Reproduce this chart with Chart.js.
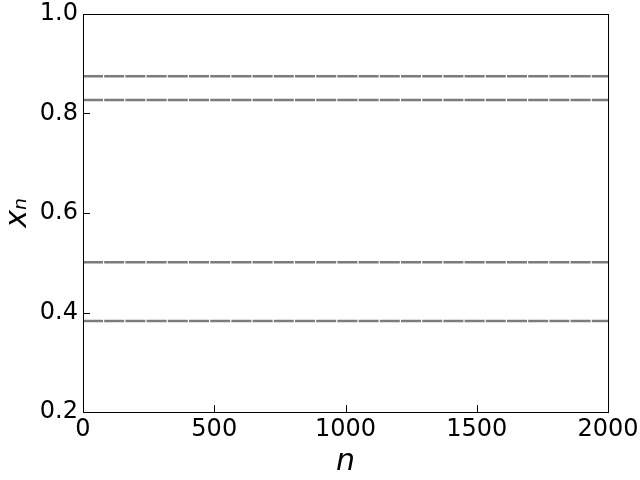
<!DOCTYPE html>
<html>
<head>
<meta charset="utf-8">
<script src="https://cdn.jsdelivr.net/npm/chart.js@4"></script>
<style>
  html, body { margin: 0; padding: 0; background: #fff; }
  #wrap { width: 640px; height: 480px; }
</style>
</head>
<body>
<div id="wrap"><canvas id="orbitChart" width="640" height="480"></canvas></div>
<script>
// period-4 orbit values
const orbitValues = [0.3828, 0.5009, 0.8269, 0.8750];
const nRange = [0, 2000];
const xTicks = [0, 500, 1000, 1500, 2000];
const yTicks = [0.2, 0.4, 0.6, 0.8, 1.0];

const datasets = orbitValues.map(v => ({
    data: nRange.map(n => ({ x: n, y: v })),
    borderColor: '#7b7b7b',
    borderWidth: 2.5,
    borderDash: [20, 1.2],
    pointRadius: 0,
    fill: false
}));

// matplotlib-style frame with inward ticks
const framePlugin = {
    id: 'frame',
    afterDraw(chart) {
        const ctx = chart.ctx;
        const a = chart.chartArea;
        const xs = chart.scales.x, ys = chart.scales.y;
        ctx.save();
        ctx.strokeStyle = '#000';
        ctx.lineWidth = 1;
        ctx.strokeRect(Math.round(a.left) + 0.5, Math.round(a.top) + 0.5,
            Math.round(a.right - a.left), Math.round(a.bottom - a.top));
        ctx.beginPath();
        xTicks.forEach(t => {
            const px = Math.round(xs.getPixelForValue(t)) + 0.5;
            ctx.moveTo(px, a.bottom);
            ctx.lineTo(px, a.bottom - 7);
        });
        yTicks.forEach(t => {
            const py = Math.round(ys.getPixelForValue(t)) + 0.5;
            ctx.moveTo(a.left, py);
            ctx.lineTo(a.left + 7, py);
        });
        ctx.stroke();
        ctx.restore();
    }
};

new Chart(document.getElementById('orbitChart').getContext('2d'), {
    type: 'line',
    data: { datasets: datasets },
    plugins: [framePlugin],
    options: {
        responsive: false,
        animation: false,
        layout: { padding: { top: 14, right: 32, left: 0, bottom: 0 } },
        plugins: { legend: { display: false }, tooltip: { enabled: false } },
        scales: {
            x: {
                type: 'linear',
                min: 0,
                max: 2000,
                afterBuildTicks: s => { s.ticks = xTicks.map(v => ({ value: v })); },
                afterFit: s => { s.height = 68; s.paddingLeft = 0; s.paddingRight = 0; },
                grid: { display: false, drawTicks: false },
                border: { display: false },
                ticks: {
                    color: '#000',
                    padding: 3,
                    maxRotation: 0,
                    callback: v => String(v),
                    font: { family: 'DejaVu Sans', size: 24 }
                },
                title: {
                    display: true,
                    text: 'n',
                    color: '#000',
                    padding: { top: 0, bottom: 0 },
                    font: { family: 'DejaVu Sans', size: 30, style: 'italic' }
                }
            },
            y: {
                min: 0.2,
                max: 1.0,
                afterBuildTicks: s => { s.ticks = yTicks.map(v => ({ value: v })); },
                afterFit: s => { s.width = 83; s.paddingTop = 0; s.paddingBottom = 0; },
                grid: { display: false, drawTicks: false },
                border: { display: false },
                ticks: {
                    color: '#000',
                    padding: 5,
                    callback: v => v.toFixed(1),
                    font: { family: 'DejaVu Sans', size: 24 }
                },
                title: {
                    display: true,
                    text: 'xₙ',
                    color: '#000',
                    padding: { top: 0, bottom: 0 },
                    font: { family: 'DejaVu Sans', size: 30, style: 'italic' }
                }
            }
        }
    }
});
</script>
</body>
</html>
